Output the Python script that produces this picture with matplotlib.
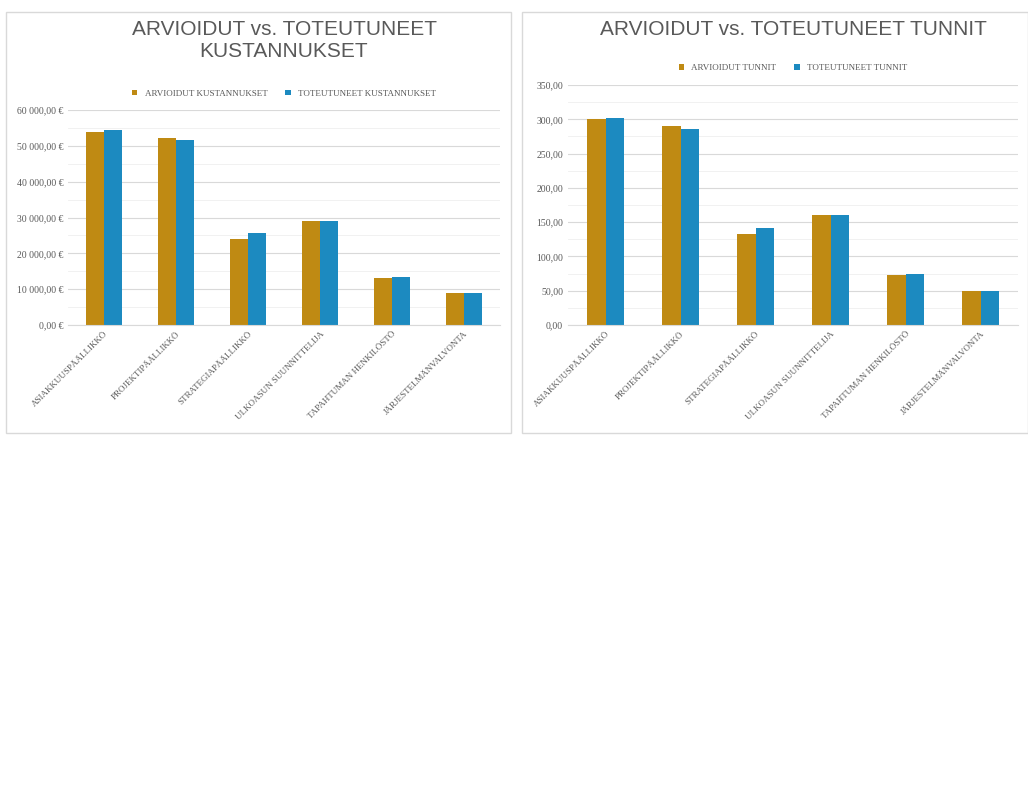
import matplotlib
matplotlib.use("Agg")
import matplotlib.pyplot as plt
from matplotlib.patches import Rectangle
import numpy as np

categories = ["ASIAKKUUSPÄÄLLIKKÖ", "PROJEKTIPÄÄLLIKKÖ", "STRATEGIAPÄÄLLIKKÖ",
              "ULKOASUN SUUNNITTELIJA", "TAPAHTUMAN HENKILÖSTÖ", "JÄRJESTELMÄNVALVONTA"]
est_cost = [54000, 52300, 23900, 29000, 13100, 8900]
act_cost = [54500, 51600, 25700, 28900, 13300, 8900]
est_hours = [300, 290, 133, 161, 73, 50]
act_hours = [302, 286, 142, 160, 74, 50]
cost_ticks = [0, 10000, 20000, 30000, 40000, 50000, 60000]
hour_ticks = [0, 50, 100, 150, 200, 250, 300, 350]

C1, C2 = "#BF8A13", "#1C8AC0"
fig = plt.figure(figsize=(10.28, 8.0), dpi=100)
for (x0, w) in [(6, 505), (522, 506)]:
    fig.add_artist(Rectangle((x0/1028, 1-433/800), w/1028, 421/800, transform=fig.transFigure,
                             fill=False, edgecolor="#D9D9D9", lw=1))

def panel(rect, e, a, ticks, fmt, title, labels, ty):
    ax = fig.add_axes(rect)
    x = np.arange(len(categories))
    w = 0.25
    ax.bar(x - w/2, e, w, color=C1, label=labels[0])
    ax.bar(x + w/2, a, w, color=C2, label=labels[1])
    ax.set_ylim(ticks[0], ticks[-1])
    ax.set_yticks(ticks)
    ax.set_yticklabels([fmt(t) for t in ticks], fontsize=7, color="#595959", family="Liberation Serif")
    minor = [(ticks[i]+ticks[i+1])/2 for i in range(len(ticks)-1)]
    ax.set_yticks(minor, minor=True)
    ax.grid(axis="y", which="major", color="#D9D9D9", lw=0.8)
    ax.grid(axis="y", which="minor", color="#EFEFEF", lw=0.6)
    ax.tick_params(axis="y", which="both", length=0)
    ax.set_axisbelow(True)
    ax.set_xlim(-0.5, len(categories)-0.5)
    ax.set_xticks(x)
    ax.set_xticklabels(categories, rotation=45, ha="right", rotation_mode="anchor",
                       fontsize=6.5, color="#595959", family="Liberation Serif")
    ax.tick_params(axis="x", length=0)
    for s in ["top", "right", "left"]:
        ax.spines[s].set_visible(False)
    ax.spines["bottom"].set_color("#D9D9D9")
    cx = rect[0] + rect[2]/2
    fig.text(cx, ty, title, ha="center", va="top", fontsize=15, color="#595959", family="Liberation Sans")
    ax.legend(loc="lower center", bbox_to_anchor=(0.5, 1.02), ncol=2, frameon=False,
              prop={"family": "Liberation Serif", "size": 6.5}, labelcolor="#595959",
              handlelength=0.6, handleheight=0.6, columnspacing=2)
    return ax

fmt_cost = lambda t: f"{t:,.2f} €".replace(",", " ").replace(".", ",")
fmt_hour = lambda t: f"{t:.2f}".replace(".", ",")
panel([68/1028, 1-325/800, 432/1028, 215/800], est_cost, act_cost, cost_ticks, fmt_cost,
      "ARVIOIDUT vs. TOTEUTUNEET\nKUSTANNUKSET", ["ARVIOIDUT KUSTANNUKSET", "TOTEUTUNEET KUSTANNUKSET"], 1-20/800)
panel([568/1028, 1-325/800, 450/1028, 240/800], est_hours, act_hours, hour_ticks, fmt_hour,
      "ARVIOIDUT vs. TOTEUTUNEET TUNNIT", ["ARVIOIDUT TUNNIT", "TOTEUTUNEET TUNNIT"], 1-20/800)
fig.savefig("out.png", dpi=100, facecolor="white")
